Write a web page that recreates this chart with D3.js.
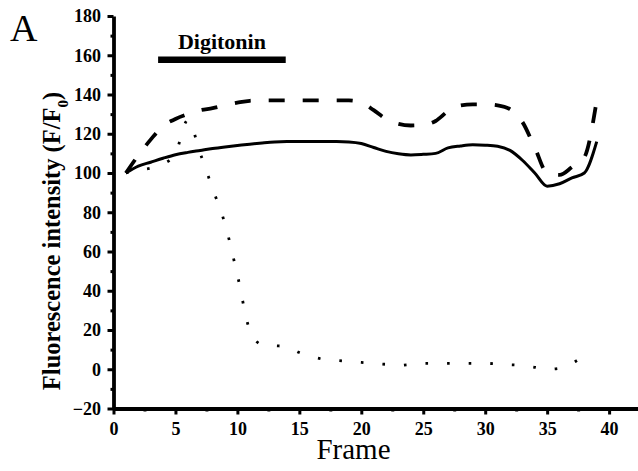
<!DOCTYPE html>
<html>
<head>
<meta charset="utf-8">
<script src="https://cdn.jsdelivr.net/npm/d3@7"></script>
<style>
  body { margin: 0; background: #fff; }
  text { font-family: "Liberation Serif", "Times New Roman", serif; fill: #000; }
</style>
</head>
<body>
<script>
// frames and values
var frames = d3.range(1, 40);
var solid = [100, 103.5, 105.5, 107.5, 109.3, 110.5, 111.5, 112.5, 113.3, 114, 114.7, 115.3, 115.8, 116, 116, 116, 116, 116, 115.8, 115,
             113, 111, 109.8, 109.2, 109.5, 110, 112.8, 113.8, 114.4, 114.2, 113.6, 111.5, 106.5, 100, 93.3, 94.5, 97.5, 100, 116];
var dashed = [100, 109, 117, 124, 127.5, 130, 132, 133, 134.5, 135.8, 136.8, 137, 137, 137, 137, 137, 137, 137, 137, 136,
              132, 127.5, 125, 124.2, 124.5, 126.5, 131.5, 134.4, 135, 135, 134.5, 132.5, 126, 113, 100, 99, 103, 108, 137];
var dottedFrames = d3.range(1, 39);
var dotted = [100, 101.5, 102.5, 104.5, 110, 127, 110, 92, 74, 48, 20, 12.5, 12, 11.5, 8.5, 6.5, 5, 4.5, 4, 3.5,
              3, 2.5, 2, 2.5, 3, 3, 3, 3, 3, 3, 2.7, 2.3, 2, 1, 0, 0.5, 3, 7];
var digitonin = [3.6, 13.9];   // frames covered by the treatment bar
var yMajor = d3.range(-20, 181, 20);
var yMinor = d3.range(-10, 180, 20);
var xMajor = d3.range(0, 41, 5);
var xMinor = d3.range(2.5, 41, 5);

var width = 638, height = 471;
var svg = d3.select('body').append('svg').attr('width', width).attr('height', height);

var x = d3.scaleLinear().domain([0, 42.3]).range([113.5, 637.6]);
var y = d3.scaleLinear().domain([-20, 180]).range([408.5, 16]);

function series(fr, vals) {
    return fr.map(function (f, i) { return [f, vals[i]]; });
}
var line = d3.line()
    .x(function (d) { return x(d[0]); })
    .y(function (d) { return y(d[1]); })
    .curve(d3.curveMonotoneX);

// lines
svg.append('path')
    .attr('d', line(series(dottedFrames, dotted)))
    .attr('fill', 'none').attr('stroke', '#000')
    .attr('stroke-width', 2.8)
    .attr('stroke-dasharray', '2.6 19');

svg.append('path')
    .attr('d', line(series(frames, dashed)))
    .attr('fill', 'none').attr('stroke', '#000')
    .attr('stroke-width', 3.8)
    .attr('stroke-dasharray', '16 18');

svg.append('path')
    .attr('d', line(series(frames, solid)))
    .attr('fill', 'none').attr('stroke', '#000')
    .attr('stroke-width', 3)
    .attr('stroke-linejoin', 'round');

// axes
svg.append('g').attr('transform', 'translate(' + x(0) + ',0)')
    .call(d3.axisLeft(y).tickValues(yMajor).tickSize(6).tickSizeOuter(0).tickPadding(6.5));
var yMin = svg.append('g').attr('transform', 'translate(' + x(0) + ',0)')
    .call(d3.axisLeft(y).tickValues(yMinor).tickSize(3).tickFormat(''));
yMin.select('.domain').remove();

svg.append('g').attr('transform', 'translate(0,' + y(-20) + ')')
    .call(d3.axisBottom(x).tickValues(xMajor).tickSize(6).tickSizeOuter(0).tickPadding(7.4));
var xMin = svg.append('g').attr('transform', 'translate(0,' + y(-20) + ')')
    .call(d3.axisBottom(x).tickValues(xMinor).tickSize(3).tickFormat(''));
xMin.select('.domain').remove();

svg.selectAll('.domain').attr('stroke', '#000').attr('stroke-width', 3.8);
svg.selectAll('.tick line').attr('stroke', '#000').attr('stroke-width', 3);
svg.selectAll('.tick text')
    .style('font-family', '"Liberation Serif", serif')
    .style('font-size', '18px').style('font-weight', 'bold');

// labels
svg.append('text')
    .attr('x', 10).attr('y', 41)
    .style('font-size', '38px')
    .text('A');

svg.append('text')
    .attr('x', 353.5).attr('y', 459)
    .attr('text-anchor', 'middle')
    .style('font-size', '29px')
    .text('Frame');

var yl = svg.append('text')
    .attr('transform', 'translate(60,241) rotate(-90)')
    .attr('text-anchor', 'middle')
    .style('font-size', '24.5px').style('font-weight', 'bold');
yl.append('tspan').text('Fluorescence intensity (F/F');
yl.append('tspan').attr('baseline-shift', 'sub').style('font-size', '15px').text('0');
yl.append('tspan').text(')');

// digitonin bar
svg.append('rect')
    .attr('x', x(digitonin[0])).attr('y', 56.5)
    .attr('width', x(digitonin[1]) - x(digitonin[0])).attr('height', 6.5)
    .attr('fill', '#000');
svg.append('text')
    .attr('x', (x(digitonin[0]) + x(digitonin[1])) / 2).attr('y', 49)
    .attr('text-anchor', 'middle')
    .style('font-size', '22px').style('font-weight', 'bold')
    .text('Digitonin');
</script>
</body>
</html>
